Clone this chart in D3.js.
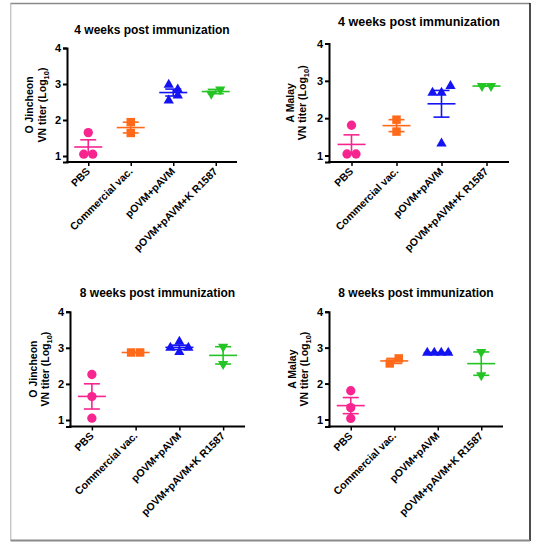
<!DOCTYPE html>
<html><head><meta charset="utf-8">
<script src="https://cdn.jsdelivr.net/npm/d3@7"></script>
<style>
html,body{margin:0;padding:0;background:#fff;}
svg{display:block;}
text{font-family:"Liberation Sans",Arial,sans-serif;font-weight:bold;fill:#000;}
</style></head>
<body>
<svg id="chart" width="556" height="542"></svg>
<script>
// ---------- data ----------
const categories = ["PBS", "Commercial vac.", "pOVM+pAVM", "pOVM+pAVM+K R1587"];
const yTicks = [1, 2, 3, 4];
const panelTitles = ["4 weeks post immunization", "4 weeks post immunization", "8 weeks post immunization", "8 weeks post immunization"];
const panelStrains = ["O Jincheon", "A Malay", "O Jincheon", "A Malay"];

// values (log10 VN titer), one array per group
const wk4_OJincheon = [[1.65, 1.05, 1.05], [1.94, 1.64], [2.98, 2.54, 2.85, 2.68], [2.73, 2.85]];
const wk4_AMalay    = [[1.81, 1.04, 1.04], [1.96, 1.64], [2.68, 2.68, 2.86, 1.32], [2.86, 2.86]];
const wk8_OJincheon = [[2.26, 1.65, 1.05], [2.87, 2.87], [3.00, 2.88, 3.00, 3.17], [3.03, 2.55]];
const wk8_AMalay    = [[1.80, 1.33, 1.03], [2.56, 2.70], [2.86, 2.86, 2.86, 2.86], [2.88, 2.23]];

const groupColors = ["#f7258f", "#ff6a1a", "#1414f2", "#25c425"];
const groupShapes = ["circle", "square", "triangleUp", "triangleDown"];

// ---------- layout ----------
const panels = [
  {data: wk4_OJincheon, x0: 67,  x1: 237, y4: 48,    y1: 156,   axisY: 162,   titleY: 34,  titleSize: 12,   lab1: 33,  lab2: 46},
  {data: wk4_AMalay,    x0: 329, x1: 509, y4: 43.5,  y1: 155.5, axisY: 162,   titleY: 26,  titleSize: 12.5, lab1: 294, lab2: 306},
  {data: wk8_OJincheon, x0: 70,  x1: 245, y4: 311.7, y1: 420,   axisY: 426.5, titleY: 297, titleSize: 12,   lab1: 37,  lab2: 49},
  {data: wk8_AMalay,    x0: 329, x1: 503, y4: 311.7, y1: 419.5, axisY: 426.5, titleY: 297, titleSize: 12,   lab1: 296, lab2: 308}
];

const svg = d3.select("#chart");

// frame
const frame = svg.append("g");
frame.append("line").attr("x1", 10.5).attr("x2", 530).attr("y1", 3.5).attr("y2", 3.5).attr("stroke", "#8a8a8a").attr("stroke-width", 1.6);
frame.append("line").attr("x1", 10.8).attr("x2", 10.8).attr("y1", 3).attr("y2", 540).attr("stroke", "#b0b0b0").attr("stroke-width", 1);
frame.append("line").attr("x1", 530).attr("x2", 530).attr("y1", 3).attr("y2", 541).attr("stroke", "#000").attr("stroke-width", 1.4);
frame.append("line").attr("x1", 10.5).attr("x2", 530).attr("y1", 540.5).attr("y2", 540.5).attr("stroke", "#8a8a8a").attr("stroke-width", 2);

function symbolPath(shape) {
  if (shape === "circle") return d3.symbol(d3.symbolCircle, 68)();
  if (shape === "square") return d3.symbol(d3.symbolSquare, 72)();
  return d3.symbol(d3.symbolTriangle, 46)();
}

// arrange points of one group in rows (Prism-like scatter)
function arrange(vals, y) {
  const idx = vals.map((v, i) => i).sort((a, b) => vals[a] - vals[b]);
  const rows = [];
  let cur = null;
  idx.forEach(i => {
    const py = y(vals[i]);
    if (cur && Math.abs(py - cur.y0) < 8.6) cur.items.push(i);
    else { cur = {y0: py, items: [i]}; rows.push(cur); }
  });
  const off = new Array(vals.length).fill(0);
  rows.forEach(r => {
    const items = r.items.slice().sort((a, b) => a - b);
    const n = items.length;
    const sp = n > 1 ? Math.min(9, 21 / (n - 1)) : 0;
    items.forEach((i, k) => { off[i] = (k - (n - 1) / 2) * sp; });
  });
  return off;
}

panels.forEach((p, pi) => {
  const g = svg.append("g");
  const yLin = d3.scaleLinear().domain([1, 4]).range([p.y1, p.y4]);
  const y = d3.scaleLinear().domain([yLin.invert(p.axisY), 4]).range([p.axisY, p.y4]);
  const x = d3.scalePoint().domain(categories).range([p.x0, p.x1]).padding(0.5);

  // title
  g.append("text").attr("x", (p.x0 + p.x1) / 2).attr("y", p.titleY)
    .attr("text-anchor", "middle").attr("font-size", p.titleSize).text(panelTitles[pi]);

  // y axis
  const ya = g.append("g").attr("transform", `translate(${p.x0},0)`)
    .call(d3.axisLeft(y).tickValues(yTicks).tickFormat(d3.format("d")).tickSizeOuter(0).tickSize(4).tickPadding(2));
  ya.select(".domain").attr("stroke-width", 2);
  ya.selectAll(".tick line").attr("stroke-width", 2);
  ya.selectAll(".tick text").attr("font-size", 11).attr("font-family", "Liberation Sans, Arial, sans-serif").attr("font-weight", "bold");

  // x axis
  const xa = g.append("g").attr("transform", `translate(0,${p.axisY})`)
    .call(d3.axisBottom(x).tickSizeOuter(0).tickSize(4));
  xa.select(".domain").attr("stroke-width", 2).attr("d", `M${p.x0 - 1},0H${p.x1}`);
  xa.selectAll(".tick line").attr("stroke-width", 1.5);
  xa.selectAll(".tick text")
    .attr("font-size", 10.5).attr("font-family", "Liberation Sans, Arial, sans-serif").attr("font-weight", "bold")
    .attr("text-anchor", "end").attr("dy", null).attr("y", 0)
    .attr("transform", "translate(2,10) rotate(-45)");

  // y label (two lines)
  const cy = (p.axisY + p.y4) / 2;
  g.append("text").attr("transform", `translate(${p.lab1},${cy}) rotate(-90)`)
    .attr("text-anchor", "middle").attr("font-size", 10.5).text(panelStrains[pi]);
  const t2 = g.append("text").attr("transform", `translate(${p.lab2},${cy}) rotate(-90)`)
    .attr("text-anchor", "middle").attr("font-size", 10.5);
  t2.append("tspan").text("VN titer (Log");
  t2.append("tspan").attr("font-size", 7.5).attr("dy", 2.5).text("10");
  t2.append("tspan").attr("dy", -2.5).text(")");

  // groups
  p.data.forEach((vals, gi) => {
    const col = groupColors[gi];
    const cx = x(categories[gi]);
    const m = d3.mean(vals);
    const sem = vals.length > 1 ? d3.deviation(vals) / Math.sqrt(vals.length) : 0;
    const gg = g.append("g");
    const off = arrange(vals, y);
    // points
    gg.selectAll("path.pt").data(vals).join("path").attr("class", "pt")
      .attr("d", symbolPath(groupShapes[gi]))
      .attr("fill", col)
      .attr("transform", (d, i) => `translate(${cx + off[i]},${y(d)})` + (groupShapes[gi] === "triangleDown" ? " rotate(180)" : ""));
    // mean + SEM
    gg.append("line").attr("x1", cx - 14).attr("x2", cx + 14).attr("y1", y(m)).attr("y2", y(m))
      .attr("stroke", col).attr("stroke-width", 1.6);
    gg.append("line").attr("x1", cx).attr("x2", cx).attr("y1", y(m - sem)).attr("y2", y(m + sem))
      .attr("stroke", col).attr("stroke-width", 1.6);
    [m - sem, m + sem].forEach(v => {
      gg.append("line").attr("x1", cx - 8).attr("x2", cx + 8).attr("y1", y(v)).attr("y2", y(v))
        .attr("stroke", col).attr("stroke-width", 1.6);
    });
  });
});
</script>
</body></html>
